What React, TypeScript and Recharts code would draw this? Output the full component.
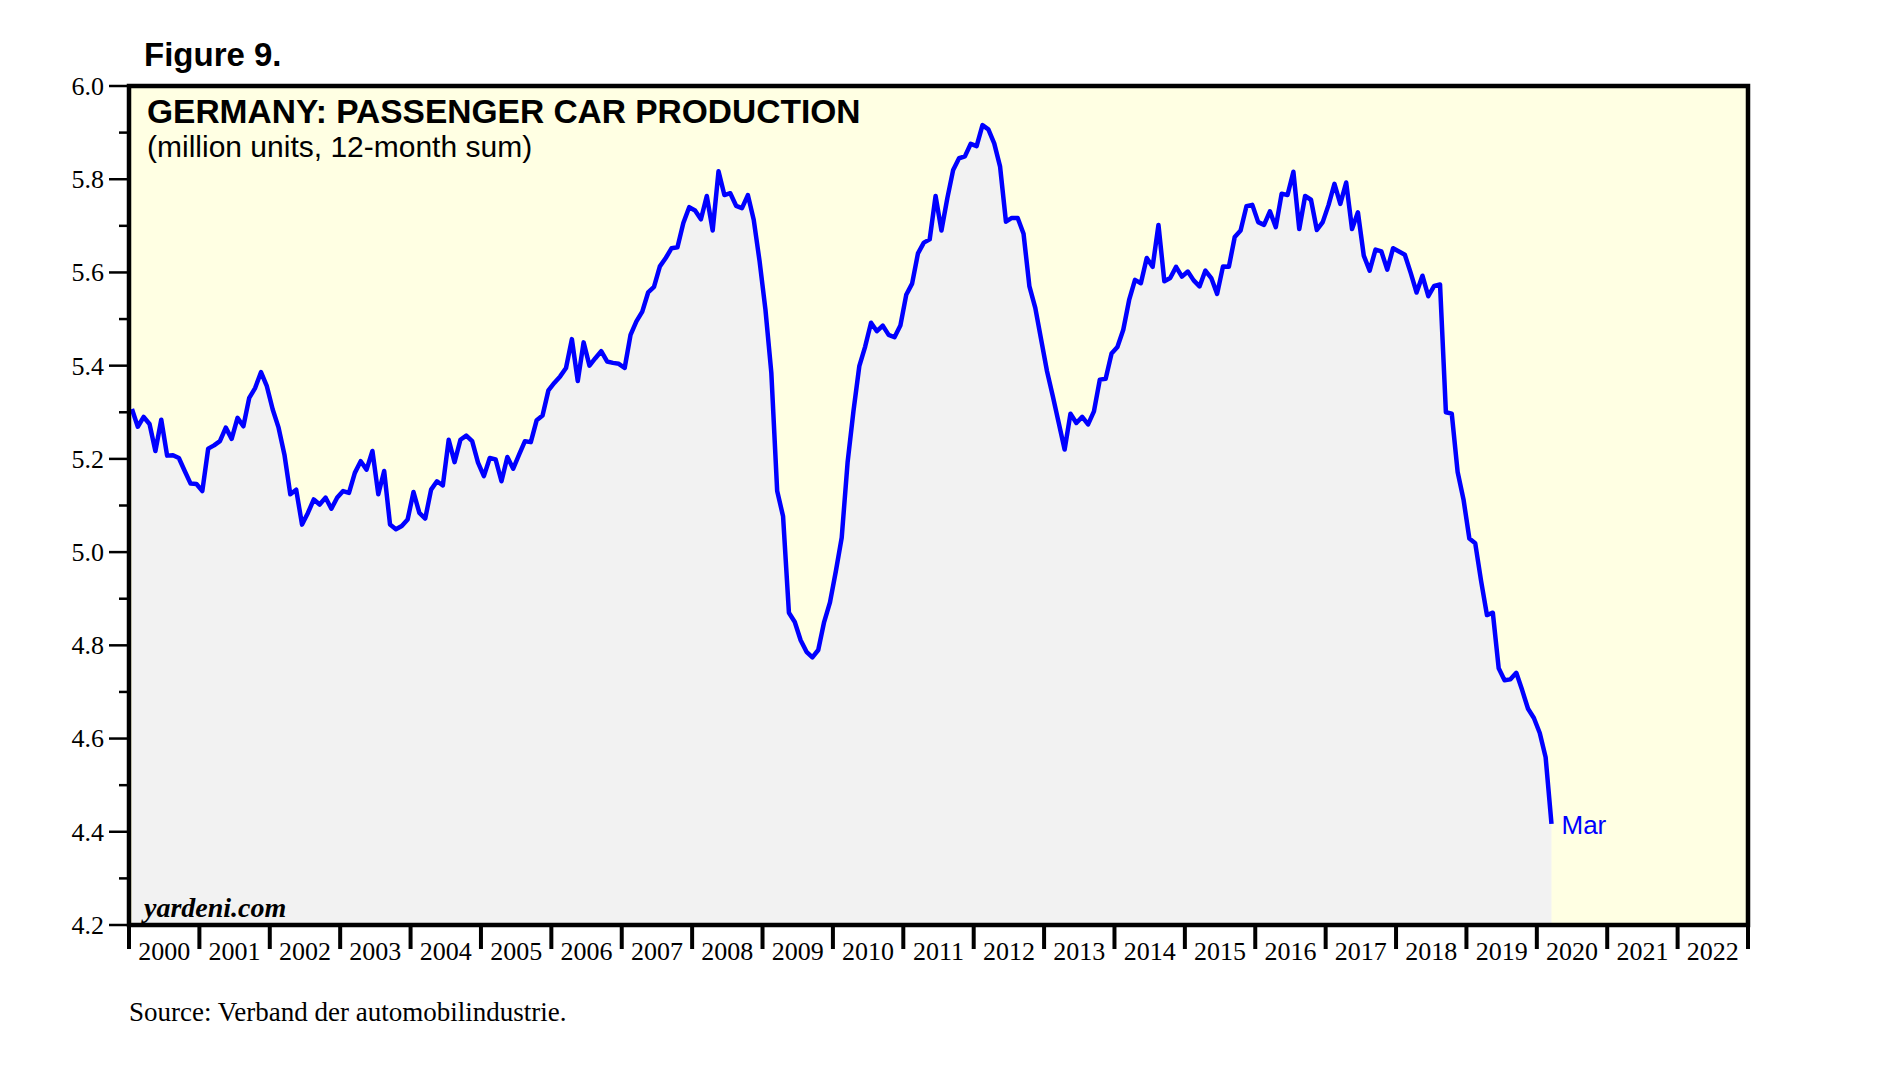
import { ComposedChart, Area, XAxis, YAxis, CartesianGrid, ReferenceArea, LabelList } from 'recharts';

// 12-month sum, million units, monthly from Jan 2000 to Mar 2020
const production: number[] = [
  5.307, 5.269, 5.290, 5.275, 5.217, 5.284, 5.207, 5.208, 5.202, 5.174, 5.147, 5.146, // 2000
  5.131, 5.222, 5.229, 5.238, 5.267, 5.243, 5.288, 5.270, 5.331, 5.352, 5.386, 5.356, // 2001
  5.306, 5.267, 5.209, 5.124, 5.134, 5.059, 5.084, 5.113, 5.102, 5.117, 5.093, 5.117, // 2002
  5.131, 5.127, 5.170, 5.195, 5.177, 5.217, 5.124, 5.174, 5.059, 5.049, 5.056, 5.070, // 2003
  5.129, 5.084, 5.072, 5.134, 5.152, 5.143, 5.241, 5.193, 5.241, 5.250, 5.238, 5.192, // 2004
  5.163, 5.202, 5.199, 5.152, 5.204, 5.179, 5.209, 5.238, 5.236, 5.283, 5.293, 5.347, // 2005
  5.363, 5.377, 5.395, 5.457, 5.367, 5.450, 5.400, 5.416, 5.431, 5.409, 5.406, 5.404, // 2006
  5.395, 5.466, 5.495, 5.516, 5.557, 5.569, 5.613, 5.631, 5.652, 5.654, 5.706, 5.740, // 2007
  5.733, 5.714, 5.764, 5.690, 5.817, 5.766, 5.770, 5.743, 5.738, 5.766, 5.713, 5.624, // 2008
  5.520, 5.385, 5.131, 5.077, 4.870, 4.850, 4.811, 4.786, 4.774, 4.790, 4.850, 4.892, // 2009
  4.959, 5.031, 5.192, 5.302, 5.399, 5.441, 5.492, 5.474, 5.486, 5.466, 5.461, 5.486, // 2010
  5.552, 5.576, 5.641, 5.664, 5.671, 5.764, 5.690, 5.759, 5.820, 5.845, 5.849, 5.876, // 2011
  5.871, 5.916, 5.907, 5.877, 5.827, 5.709, 5.717, 5.717, 5.683, 5.570, 5.524, 5.456, // 2012
  5.388, 5.334, 5.277, 5.220, 5.297, 5.277, 5.290, 5.274, 5.302, 5.370, 5.372, 5.426, // 2013
  5.440, 5.477, 5.541, 5.584, 5.577, 5.631, 5.612, 5.702, 5.581, 5.588, 5.612, 5.591, // 2014
  5.602, 5.583, 5.570, 5.604, 5.588, 5.554, 5.613, 5.612, 5.676, 5.690, 5.742, 5.745, // 2015
  5.708, 5.702, 5.731, 5.697, 5.769, 5.766, 5.816, 5.693, 5.764, 5.756, 5.691, 5.708, // 2016
  5.745, 5.790, 5.747, 5.793, 5.693, 5.729, 5.636, 5.604, 5.649, 5.645, 5.606, 5.652, // 2017
  5.645, 5.638, 5.599, 5.557, 5.593, 5.549, 5.571, 5.574, 5.300, 5.297, 5.172, 5.113, // 2018
  5.029, 5.019, 4.938, 4.865, 4.870, 4.751, 4.725, 4.727, 4.741, 4.704, 4.664, 4.644, // 2019
  4.612, 4.560, 4.417, // 2020
];

const START_YEAR = 2000;
const yearLabels = [
  '2000', '2001', '2002', '2003', '2004', '2005', '2006', '2007', '2008', '2009', '2010', '2011',
  '2012', '2013', '2014', '2015', '2016', '2017', '2018', '2019', '2020', '2021', '2022',
];
const yTicks = [4.2, 4.3, 4.4, 4.5, 4.6, 4.7, 4.8, 4.9, 5.0, 5.1, 5.2, 5.3, 5.4, 5.5, 5.6, 5.7, 5.8, 5.9, 6.0];
const lastLabel = 'Mar';

const SERIF = '"Liberation Serif", "Times New Roman", serif';
const SANS = '"Liberation Sans", Arial, sans-serif';

const data = production.map((v, i) => ({ t: START_YEAR + (i + 0.5) / 12, v }));
const xMin = Number(yearLabels[0]);
const xMax = Number(yearLabels[yearLabels.length - 1]) + 1;
const xTicks = yearLabels.flatMap((y) => [Number(y), Number(y) + 0.5]).concat(xMax);

function YTick(props: any) {
  const { x, y, payload, side } = props;
  const major = Math.round(payload.value * 10) % 2 === 0;
  const len = major ? 20 : 10;
  const dir = side === 'left' ? -1 : 1;
  return (
    <g>
      <line x1={x} x2={x + dir * len} y1={y} y2={y} stroke="#000" strokeWidth={2.5} />
      {major && (
        <text
          x={x + dir * (len + 5)}
          y={y}
          dy="0.34em"
          textAnchor={side === 'left' ? 'end' : 'start'}
          fontFamily={SERIF}
          fontSize={26}
          fill="#000"
        >
          {payload.value.toFixed(1)}
        </text>
      )}
    </g>
  );
}

function XTick(props: any) {
  const { x, y, payload } = props;
  const v = payload.value;
  if (Number.isInteger(v)) {
    return <line x1={x} x2={x} y1={y} y2={y + 24} stroke="#000" strokeWidth={4} />;
  }
  return (
    <text x={x} y={y + 35} textAnchor="middle" fontFamily={SERIF} fontSize={26} fill="#000">
      {yearLabels[Math.floor(v) - xMin]}
    </text>
  );
}

function EndLabel(props: any) {
  const { x, y, index } = props;
  if (index !== data.length - 1) return null;
  return (
    <text x={x + 10} y={y + 10} fontFamily={SANS} fontSize={26} fill="#0000FF">
      {lastLabel}
    </text>
  );
}

export default function App() {
  return (
    <div style={{ position: 'absolute', left: 0, top: 0, width: 1878, height: 1086, background: '#fff' }}>
      <ComposedChart width={1878} height={1086} data={data} margin={{ top: 86, right: 70, bottom: 121, left: 69 }}>
        <CartesianGrid horizontal={false} vertical={false} fill="#FFFFE3" fillOpacity={1} />
        <XAxis
          dataKey="t"
          type="number"
          domain={[xMin, xMax]}
          ticks={xTicks}
          interval={0}
          height={40}
          tickSize={0}
          tickMargin={0}
          tickLine={false}
          axisLine={false}
          tick={(p: any) => <XTick {...p} />}
        />
        <YAxis
          yAxisId="left"
          orientation="left"
          type="number"
          domain={[4.2, 6.0]}
          ticks={yTicks}
          interval={0}
          width={60}
          tickSize={0}
          tickMargin={0}
          tickLine={false}
          axisLine={false}
          tick={(p: any) => <YTick {...p} side="left" />}
        />
        <YAxis
          yAxisId="right"
          orientation="right"
          type="number"
          domain={[4.2, 6.0]}
          ticks={yTicks}
          interval={0}
          width={60}
          tickSize={0}
          tickMargin={0}
          tickLine={false}
          axisLine={false}
          tick={(p: any) => <YTick {...p} side="right" />}
        />
        <Area
          yAxisId="left"
          type="linear"
          dataKey="v"
          baseValue={4.2}
          stroke="#0000FF"
          strokeWidth={4.5}
          strokeLinejoin="round"
          fill="#F2F2F2"
          fillOpacity={1}
          dot={false}
          activeDot={false}
          isAnimationActive={false}
        >
          <LabelList dataKey="v" content={(p: any) => <EndLabel {...p} />} />
        </Area>
        <ReferenceArea
          yAxisId="left"
          x1={xMin}
          x2={xMax}
          y1={4.2}
          y2={6.0}
          fill="none"
          stroke="#000"
          strokeWidth={4.5}
        />
      </ComposedChart>
      <svg
        width={1878}
        height={1086}
        style={{ position: 'absolute', left: 0, top: 0, pointerEvents: 'none' }}
      >
        <text x={144} y={66} fontFamily={SANS} fontWeight="bold" fontSize={33} fill="#000">
          Figure 9.
        </text>
        <text x={147} y={123} fontFamily={SANS} fontWeight="bold" fontSize={33.5} fill="#000">
          GERMANY: PASSENGER CAR PRODUCTION
        </text>
        <text x={147} y={157} fontFamily={SANS} fontSize={30} fill="#000">
          (million units, 12-month sum)
        </text>
        <text x={144} y={917} fontFamily={SERIF} fontWeight="bold" fontStyle="italic" fontSize={28} fill="#000">
          yardeni.com
        </text>
        <text x={129} y={1021} fontFamily={SERIF} fontSize={27} fill="#000">
          Source: Verband der automobilindustrie.
        </text>
      </svg>
    </div>
  );
}
